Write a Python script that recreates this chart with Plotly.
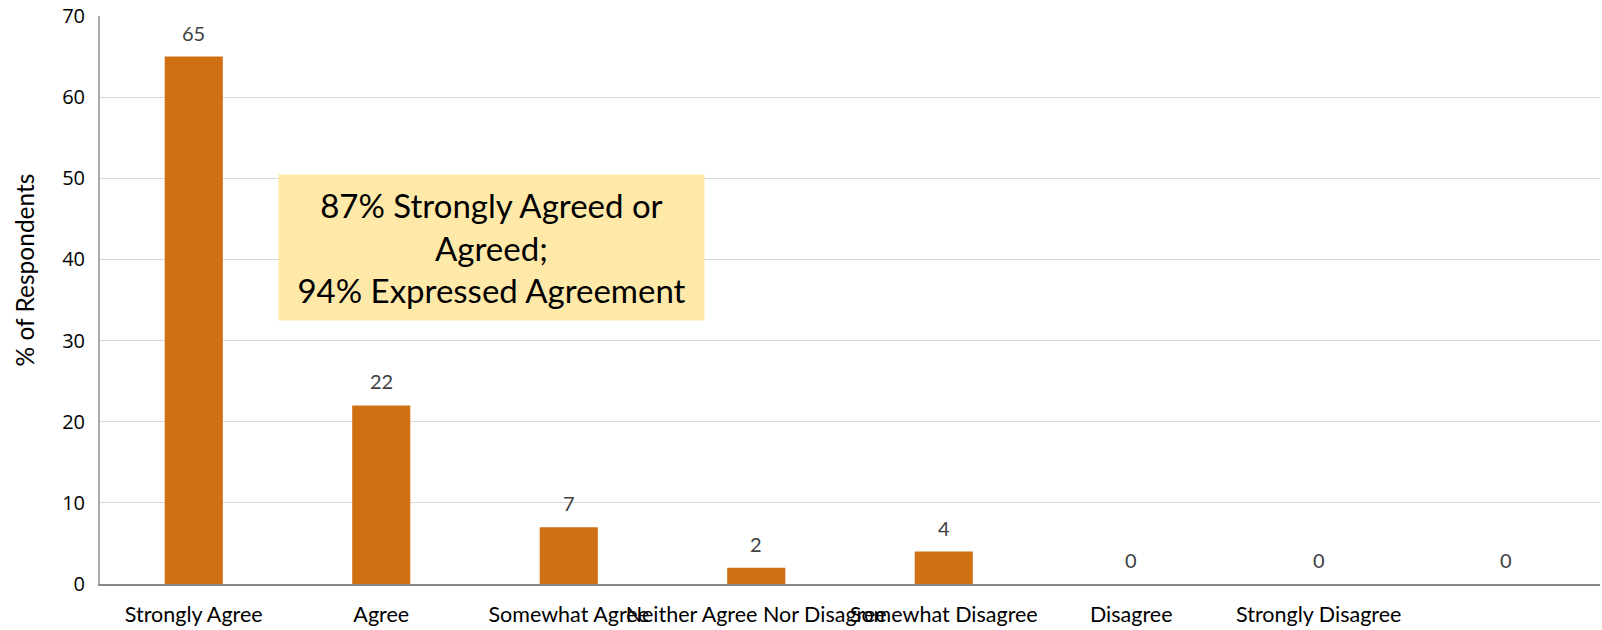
import plotly.graph_objects as go

categories = ["Strongly Agree", "Agree", "Somewhat Agree", "Neither Agree Nor Disagree",
              "Somewhat Disagree", "Disagree", "Strongly Disagree", ""]
values = [65, 22, 7, 2, 4, 0, 0, 0]
y_ticks = [0, 10, 20, 30, 40, 50, 60, 70]
y_title = "% of Respondents"
note_text = "87% Strongly Agreed or<br>Agreed;<br>94% Expressed Agreement"

x_pos = list(range(len(categories)))

fig = go.Figure()
fig.add_trace(go.Bar(
    x=x_pos, y=values,
    marker=dict(color="#D07014", line=dict(width=0)),
    width=0.31,
    hoverinfo="skip",
))

for xi, v in zip(x_pos, values):
    fig.add_annotation(x=xi, y=v, text=str(v), showarrow=False, yanchor="bottom",
                       yshift=10, font=dict(family="Lato", size=20, color="#404040"))

fig.add_annotation(
    xref="paper", yref="paper", x=0.261, y=0.592, xanchor="center", yanchor="middle",
    text=note_text, showarrow=False, align="center",
    bgcolor="#FFE9A8", width=423, height=143,
    font=dict(family="Lato", size=33, color="#000000"),
)

fig.add_annotation(
    xref="paper", yref="paper", x=-0.0503, y=0.553, xanchor="center", yanchor="middle",
    text=y_title, textangle=-90, showarrow=False,
    font=dict(family="Lato", size=24.5, color="#000000"),
)

fig.update_layout(
    width=1602, height=630,
    margin=dict(l=100, r=2, t=16, b=46),
    paper_bgcolor="white", plot_bgcolor="white",
    showlegend=False,
    bargap=0.69,
    xaxis=dict(
        tickmode="array", tickvals=x_pos, ticktext=categories,
        range=[-0.5, len(categories) - 0.5],
        tickangle=0, ticks="", showgrid=False, automargin=False,
        showline=True, linecolor="#888888", linewidth=2,
        tickfont=dict(family="Lato", size=21.5, color="#000000"),
        ticklabelstandoff=10, ticklabeloverflow="allow",
    ),
    yaxis=dict(
        range=[0, 70], tickvals=y_ticks, ticks="", automargin=False,
        showgrid=True, gridcolor="#D9D9D9", gridwidth=1,
        showline=True, linecolor="#AAAAAA", linewidth=2,
        zeroline=False,
        tickfont=dict(family="Open Sans", size=20, color="#000000"),
        ticklabelstandoff=9, ticklabeloverflow="allow",
    ),
)

fig.write_html(
    "out.html",
    config={"displayModeBar": False},
    post_script="document.body.style.margin='0';document.body.style.overflow='hidden';",
)
